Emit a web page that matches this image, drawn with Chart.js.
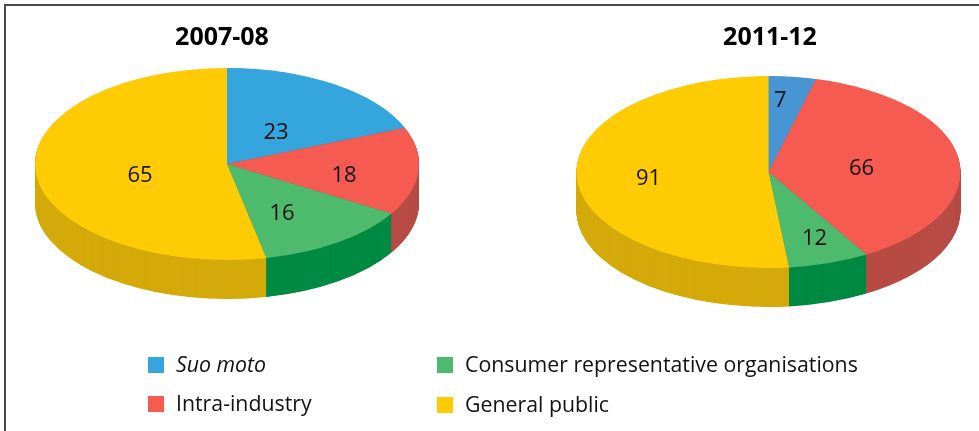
<!DOCTYPE html>
<html>
<head>
<meta charset="utf-8">
<script src="https://cdn.jsdelivr.net/npm/chart.js@4"></script>
<style>
html,body{margin:0;padding:0;background:#fff;width:979px;height:431px;overflow:hidden;position:relative;font-family:"Open Sans",sans-serif;color:#111}
#frame{position:absolute;left:4px;top:4px;width:990px;height:440px;border:2px solid #4a4a4a;box-sizing:border-box}
canvas{position:absolute}
.wrap{position:absolute;top:0;height:431px}
.lg{position:absolute;font-size:21.3px;line-height:28px;white-space:nowrap}
.sw{position:absolute;width:16px;height:16px}
</style>
</head>
<body>
<div id="frame"></div>
<div class="wrap" style="left:0;width:444px"><canvas id="a"></canvas></div>
<div class="wrap" style="left:561px;width:418px"><canvas id="b"></canvas></div>
<div id="legend"></div>
<script>
const categories = ["Suo moto", "Intra-industry", "Consumer representative organisations", "General public"];
const values0708 = [23, 18, 16, 65];
const values1112 = [7, 66, 12, 91];
const titles = ["2007-08", "2011-12"];
const topColors0708 = ["#35a5de", "#f55b50", "#4dba6e", "#ffcb05"];
const topColors1112 = ["#4795d3", "#f55b50", "#4dba6e", "#ffcb05"];
const sideColors = ["#2a7fae", "#b84c45", "#008a43", "#d4aa0a"];

const squash = 0.5, depth = 39;

const pie3d = {
  id: "pie3d",
  beforeDatasetsDraw(chart, args, o) {
    const arcs = chart.getDatasetMeta(0).data, ctx = chart.ctx;
    const cx = arcs[0].x, cy = arcs[0].y;
    const place = (dy) => {
      ctx.setTransform(1, 0, 0, squash, o.cx - cx, o.cy + dy - cy * squash);
    };
    ctx.save();
    for (let d = depth; d >= 0.5; d -= 0.5) {
      place(d);
      arcs.forEach((arc, i) => {
        const saved = arc.options;
        arc.options = Object.create(saved, {
          backgroundColor: { value: sideColors[i] },
          borderWidth: { value: 0 }
        });
        arc.draw(ctx);
        arc.options = saved;
      });
    }
    place(0);
  },
  afterDatasetsDraw(chart, args, o) {
    const ctx = chart.ctx;
    ctx.restore();
    const arcs = chart.getDatasetMeta(0).data;
    const values = chart.data.datasets[0].data;
    ctx.save();
    ctx.fillStyle = "#111";
    ctx.font = '22px "Open Sans", sans-serif';
    ctx.textAlign = "center";
    ctx.textBaseline = "middle";
    arcs.forEach((arc, i) => {
      const [frac, skew] = o.labelPolar[i];
      const a = (arc.startAngle + arc.endAngle) / 2 + skew * Math.PI / 180;
      const r = frac * arc.outerRadius;
      ctx.fillText(String(values[i]), o.cx + r * Math.cos(a), o.cy + 2 + r * Math.sin(a) * squash);
    });
    ctx.restore();
  }
};

function makePie(id, title, values, colors, cfg) {
  return new Chart(document.getElementById(id), {
    type: "pie",
    data: {
      labels: categories,
      datasets: [{ data: values, backgroundColor: colors, borderWidth: 0, radius: 192, clip: false }]
    },
    options: {
      responsive: true,
      maintainAspectRatio: false,
      animation: false,
      layout: { padding: 0 },
      events: [],
      plugins: {
        legend: { display: false },
        tooltip: { enabled: false },
        title: {
          display: true, text: title, color: "#000",
          font: { family: '"Open Sans", sans-serif', size: 25, weight: "bold" },
          padding: { top: 23, bottom: 0 }
        },
        pie3d: cfg
      }
    },
    plugins: [pie3d]
  });
}

makePie("a", titles[0], values0708, topColors0708, {
  cx: 227, cy: 164,
  labelPolar: [[0.428, 2.7], [0.618, 5.2], [0.576, 5.6], [0.465, -7]]
});
makePie("b", titles[1], values1112, topColors1112, {
  cx: 207.5, cy: 172,
  labelPolar: [[0.763, -2.5], [0.487, 2.1], [0.718, -1.1], [0.627, -1.7]]
});

const legendEl = document.getElementById("legend");
const legendSlots = [[148, 357, 176], [148, 396, 176], [437, 357, 465], [437, 397, 465]];
categories.forEach((name, i) => {
  const [sx, sy, tx] = legendSlots[i];
  const sw = document.createElement("div");
  sw.className = "sw";
  sw.style.cssText = `left:${sx}px;top:${sy}px;background:${topColors0708[i]}`;
  const t = document.createElement("div");
  t.className = "lg";
  t.textContent = name;
  t.style.cssText = `left:${tx}px;top:${sy - 7}px;${i === 0 ? "font-style:italic;" : ""}`;
  legendEl.append(sw, t);
});
</script>
</body>
</html>
